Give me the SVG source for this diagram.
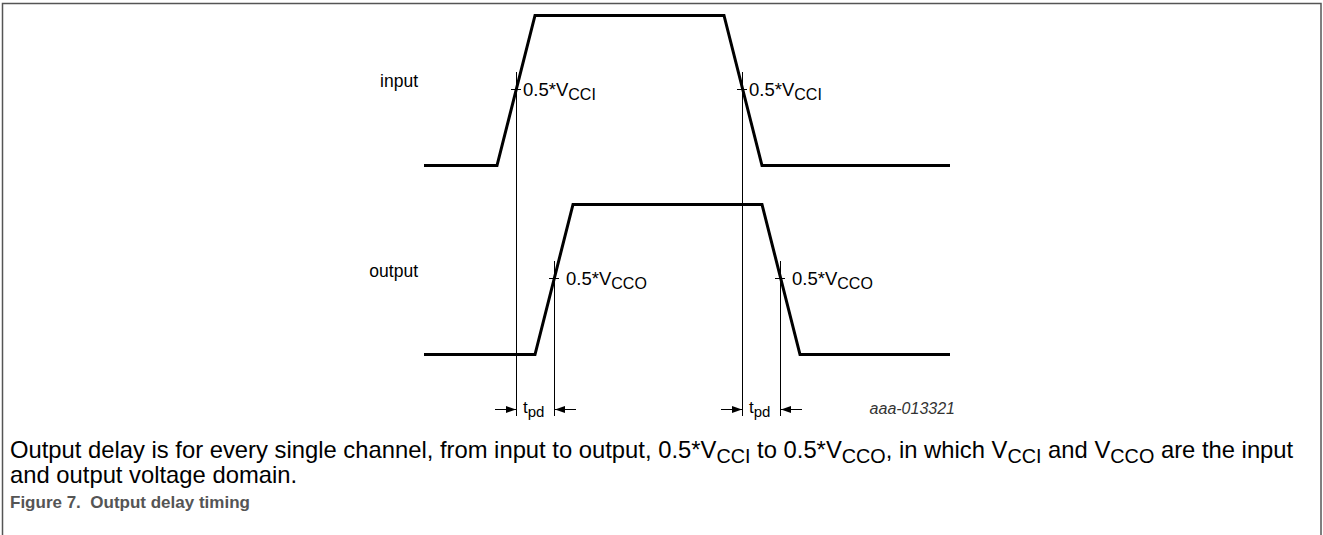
<svg xmlns="http://www.w3.org/2000/svg" width="1323" height="535" viewBox="0 0 1323 535">
<defs>
<style>
.wave{fill:none;stroke:#000;stroke-width:3;stroke-linejoin:miter}
.thin{fill:none;stroke:#000;stroke-width:1}
.lbl{font-family:"Liberation Sans",Arial,sans-serif;font-size:18.5px;fill:#000}
.sub{font-size:16px}
.cap{font-family:"Liberation Sans",Arial,sans-serif;font-size:23.8px;fill:#000}
.csub{font-size:19.8px}
.fig{font-family:"Liberation Sans",Arial,sans-serif;font-size:17px;font-weight:bold;fill:#555}
</style>
<marker id="ah" viewBox="0 0 10 10" refX="10" refY="5" markerWidth="10" markerHeight="10" markerUnits="userSpaceOnUse" orient="auto">
<path d="M0,1.5 L10,5 L0,8.5 Z" fill="#000"/>
</marker>
</defs>
<rect x="2.5" y="3.5" width="1318.5" height="540" fill="#fff" stroke="#555" stroke-width="1.5"/>
<g id="input-wave">
<polyline class="wave" points="424,165.5 497,165.5 535,15.5 724,15.5 762,165.5 950,165.5"/>
<text class="lbl" x="418" y="87" text-anchor="end" style="font-size:17.5px">input</text>
</g>
<g id="output-wave">
<polyline class="wave" points="424,354.5 535,354.5 573,204.5 762,204.5 800,354.5 950,354.5"/>
<text class="lbl" x="418" y="277" text-anchor="end" style="font-size:17.5px">output</text>
</g>
<g id="connectors">
<line class="thin" x1="516.5" y1="72" x2="516.5" y2="416"/>
<line class="thin" x1="742.5" y1="72" x2="742.5" y2="416"/>
<line class="thin" x1="554.5" y1="261" x2="554.5" y2="416"/>
<line class="thin" x1="780.5" y1="261" x2="780.5" y2="416"/>
<line class="thin" x1="511" y1="89.5" x2="521" y2="89.5"/>
<line class="thin" x1="737" y1="89.5" x2="747" y2="89.5"/>
<line class="thin" x1="549" y1="278.5" x2="559" y2="278.5"/>
<line class="thin" x1="775" y1="278.5" x2="785" y2="278.5"/>
<line class="thin" x1="495" y1="409.5" x2="516" y2="409.5" marker-end="url(#ah)"/>
<line class="thin" x1="576" y1="409.5" x2="555" y2="409.5" marker-end="url(#ah)"/>
<line class="thin" x1="721" y1="409.5" x2="742" y2="409.5" marker-end="url(#ah)"/>
<line class="thin" x1="802" y1="409.5" x2="781" y2="409.5" marker-end="url(#ah)"/>
</g>
<g id="labels">
<text class="lbl" x="523" y="96">0.5*V<tspan class="sub" dy="3.5">CCI</tspan></text>
<text class="lbl" x="749" y="96">0.5*V<tspan class="sub" dy="3.5">CCI</tspan></text>
<text class="lbl" x="566" y="285">0.5*V<tspan class="sub" dy="3.5">CCO</tspan></text>
<text class="lbl" x="792" y="285">0.5*V<tspan class="sub" dy="3.5">CCO</tspan></text>
<text class="lbl" x="523" y="413" style="font-size:17px">t<tspan class="sub" dy="4" style="font-size:15px">pd</tspan></text>
<text class="lbl" x="749" y="413" style="font-size:17px">t<tspan class="sub" dy="4" style="font-size:15px">pd</tspan></text>
<text x="955" y="414" text-anchor="end" style="font-family:'Liberation Sans',Arial,sans-serif;font-size:16px;font-style:italic;fill:#333">aaa-013321</text>
</g>
<g id="caption">
<text class="cap" x="10" y="458">Output delay is for every single channel, from input to output, 0.5*V<tspan class="csub" dy="5">CCI</tspan><tspan dy="-5"> to 0.5*V</tspan><tspan class="csub" dy="5">CCO</tspan><tspan dy="-5">, in which V</tspan><tspan class="csub" dy="5">CCI</tspan><tspan dy="-5"> and V</tspan><tspan class="csub" dy="5">CCO</tspan><tspan dy="-5"> are the input</tspan></text>
<text class="cap" x="10" y="483">and output voltage domain.</text>
<text class="fig" x="10" y="508" xml:space="preserve">Figure 7.  Output delay timing</text>
</g>
</svg>
